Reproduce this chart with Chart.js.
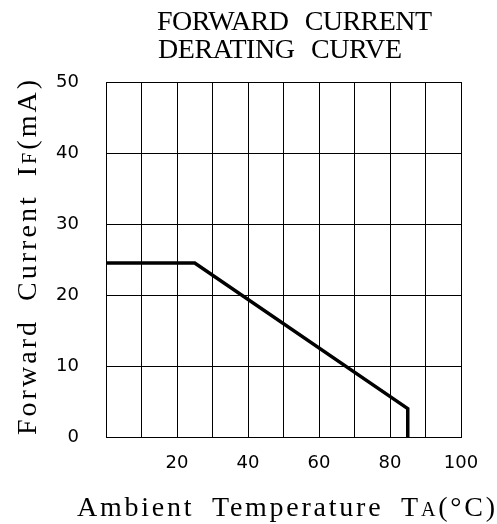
<!DOCTYPE html>
<html>
<head>
<meta charset="utf-8">
<script src="https://cdn.jsdelivr.net/npm/chart.js@4"></script>
<style>
  html, body { margin: 0; padding: 0; background: #ffffff; }
  #wrap { width: 497px; height: 524px; }
</style>
</head>
<body>
<div id="wrap"><canvas id="derating"></canvas></div>
<script>
// Forward current derating curve data
const tempC = [0, 25, 85, 85];
const currentMA = [24.5, 24.5, 4, 0];
const xTicks = [20, 40, 60, 80, 100];
const yTicks = [0, 10, 20, 30, 40, 50];
const titleLines = ['FORWARD CURRENT', 'DERATING CURVE'];
// label pieces: [text, relative size] so the subscript-ish letters come out small
const xLabel = [['Ambient Temperature T', 1], ['A', 0.72], ['(°C)', 1]];
const yLabel = [['Forward Current I', 1], ['F', 0.72], ['(mA)', 1]];

const serifFont = "'Liberation Serif', 'DejaVu Serif', serif";
const numFont = "'DejaVu Sans', sans-serif";

// draws text pieces spread out to a given width (typewriter look of the datasheet)
function drawSpread(ctx, parts, x, y, width, size, ws) {
    ctx.letterSpacing = '0px';
    ctx.wordSpacing = '0px';
    const widths = parts.map(([t, k]) => {
        ctx.font = (size * k) + 'px ' + serifFont;
        return ctx.measureText(t).width;
    });
    const spaces = parts.map(([t]) => (t.match(/ /g) || []).length);
    const natural = widths.reduce((a, b) => a + b, 0) + ws * spaces.reduce((a, b) => a + b, 0);
    const count = parts.reduce((a, p) => a + p[0].length, 0);
    const gap = (width - natural) / (count - 1);
    let cx = x;
    parts.forEach(([t, k], i) => {
        ctx.font = (size * k) + 'px ' + serifFont;
        ctx.letterSpacing = gap + 'px';
        ctx.wordSpacing = ws + 'px';
        ctx.fillText(t, cx, y);
        cx += widths[i] + gap * t.length + ws * spaces[i];
    });
    ctx.letterSpacing = '0px';
    ctx.wordSpacing = '0px';
}

const labelsPlugin = {
    id: 'sheetLabels',
    afterDraw(chart) {
        const ctx = chart.ctx;
        ctx.save();
        ctx.fillStyle = '#000';
        ctx.textAlign = 'left';
        ctx.textBaseline = 'alphabetic';
        drawSpread(ctx, [[titleLines[0], 1]], 157, 30, 275, 28, 10);
        drawSpread(ctx, [[titleLines[1], 1]], 158, 58, 244, 28, 10);
        drawSpread(ctx, xLabel, 77, 516, 418, 28, 8);
        ctx.translate(36, 435);
        ctx.rotate(-Math.PI / 2);
        drawSpread(ctx, yLabel, 0, 0, 355, 28, 8);
        ctx.restore();
    }
};

new Chart(document.getElementById('derating'), {
    type: 'line',
    data: {
        datasets: [{
            data: tempC.map((t, i) => ({ x: t, y: currentMA[i] })),
            borderColor: '#000',
            borderWidth: 3.5,
            pointRadius: 0,
            tension: 0,
            fill: false
        }]
    },
    options: {
        responsive: true,
        maintainAspectRatio: false,
        animation: false,
        layout: { padding: { top: 82, right: 36, left: 0, bottom: 0 } },
        plugins: {
            legend: { display: false },
            tooltip: { enabled: false }
        },
        scales: {
            x: {
                type: 'linear',
                min: 0,
                max: 100,
                afterFit: (s) => { s.height = 87; },
                ticks: {
                    stepSize: 10,
                    autoSkip: false,
                    color: '#000',
                    font: { family: numFont, size: 18 },
                    padding: 16,
                    maxRotation: 0,
                    callback: (v) => xTicks.includes(v) ? String(v) : ''
                },
                grid: { color: '#000', lineWidth: 1, drawTicks: false },
                border: { color: '#000', width: 1 }
            },
            y: {
                type: 'linear',
                min: 0,
                max: 50,
                afterFit: (s) => { s.width = 106; },
                ticks: {
                    stepSize: 10,
                    autoSkip: false,
                    color: '#000',
                    font: { family: numFont, size: 18 },
                    padding: 27,
                    callback: (v) => yTicks.includes(v) ? String(v) : ''
                },
                grid: { color: '#000', lineWidth: 1, drawTicks: false },
                border: { color: '#000', width: 1 }
            }
        }
    },
    plugins: [labelsPlugin]
});
</script>
</body>
</html>
